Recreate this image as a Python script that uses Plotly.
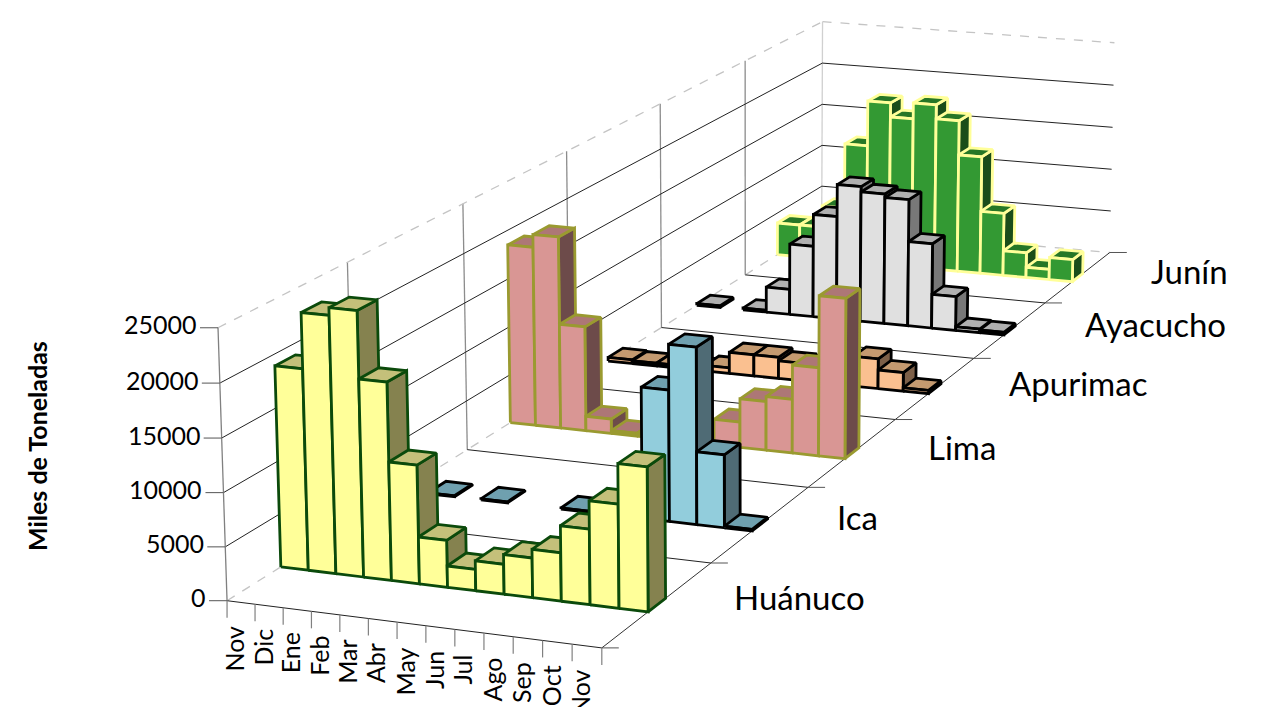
import numpy as np
import plotly.graph_objects as go

months = ["Nov","Dic","Ene","Feb","Mar","Abr","May","Jun","Jul","Ago","Sep","Oct","Nov"]
series_names = ["Huánuco","Ica","Lima","Apurimac","Ayacucho","Junín"]
huanuco  = [18900,24100,24800,18500,11100,4400,2000,2800,3700,4500,7000,9600,13300]
ica      = [0,100,0,100,0,0,100,0,0,12800,17200,7100,150]
lima     = [18500,19800,10800,1500,300,300,300,300,2600,5000,5500,9000,16300]
apurimac = [400,300,300,300,600,2300,2300,1900,1500,2500,3200,2000,350]
ayacucho = [200,0,200,2850,8000,11600,15200,14600,14200,9500,3800,400,300]
junin    = [3800,3800,6300,13900,19150,17500,19350,17700,13700,7300,2900,1200,2600]
z_ticks  = [0,5000,10000,15000,20000,25000]

rows = [huanuco, ica, lima, apurimac, ayacucho, junin]
# front, top, side, edge
styles = [
    ("#FFFF99","#C4C07A","#85824F","#0B4A0B"),
    ("#92CDDC","#6FA0AF","#4F6B75","#000000"),
    ("#D99694","#AD7776","#6D4B4A","#9A9A30"),
    ("#FAC090","#C49A70","#7D6048","#000000"),
    ("#E0E0E0","#B0B0B0","#787878","#000000"),
    ("#339933","#267726","#1A4D1A","#FFFF99"),
]
BAR_Y0, BAR_Y1 = 0.41, 0.57
ZMAX = 25000.0
series_label_pos = [(732,597),(835,517),(926,447),(1007,383),(1083,324),(1149,271)]

# view of the 3-D box: box corner -> place on the page
view_pts = [
    ((0,0,0),(227,601)),((13,0,0),(603,648)),((0,6,0),(822,227)),((13,6,0),(1110,252)),
    ((0,0,25000),(218,327)),((0,6,25000),(822,22)),((13,6,25000),(1115,43)),
    ((0,2,0),(467,450)),((0,4,0),(662,327)),((13,2,0),(807,488)),((13,4,0),(973,358)),
]
def solve_view(pts):
    A=[]
    for (x,y,z),(u,v) in pts:
        X=[x/13,y/6,z/ZMAX,1]
        u/=1000; v/=1000
        A.append(X+[0,0,0,0]+[-u*c for c in X])
        A.append([0,0,0,0]+X+[-v*c for c in X])
    return np.linalg.svd(np.array(A,float))[2][-1].reshape(3,4)
P = solve_view(view_pts)
def proj(x,y,z):
    r = P @ np.array([x/13,y/6,z/ZMAX,1.0])
    return r[0]/r[2]*1000, r[1]/r[2]*1000

fig = go.Figure()
def line(points, color, width, dash="solid"):
    xs=[];ys=[]
    for seg in points:
        for p in seg:
            xs.append(p[0]);ys.append(p[1])
        xs.append(None);ys.append(None)
    fig.add_trace(go.Scatter(x=xs,y=ys,mode="lines",line=dict(color=color,width=width,dash=dash),
                             hoverinfo="skip",showlegend=False))

NX=len(months); NY=len(series_names)
# walls
line([[proj(0,y,0),proj(0,y,ZMAX)] for y in range(1,NY)],"#8C8C8C",1.3)
line([[proj(0,NY,0),proj(0,NY,ZMAX)]],"#D0D0D0",1.3)
line([[proj(0,0,z),proj(0,NY,z)] for z in z_ticks[1:-1]],"#222222",1)
line([[proj(0,NY,z),proj(NX,NY,z)] for z in z_ticks[1:-1]],"#222222",1)
line([[proj(0,0,ZMAX),proj(0,NY,ZMAX)],[proj(0,NY,ZMAX),proj(NX,NY,ZMAX)],
      [proj(0,0,0),proj(0,NY,0)],[proj(0,NY,0),proj(NX,NY,0)]],"#C4C4C4",1.3,"dash")
# floor
line([[proj(0,y,0),proj(NX,y,0)] for y in range(0,NY)],"#222222",1)
line([[proj(NX,0,0),proj(NX,NY,0)]],"#333333",1)
def offs(p,dx=0,dy=0): return (p[0]+dx,p[1]+dy)
line([[proj(NX,y,0),offs(proj(NX,y,0),17)] for y in range(0,NY+1)],"#555555",1)
# z axis and ticks
line([[proj(0,0,0),proj(0,0,ZMAX)]],"#808080",1.3)
line([[proj(0,0,z),offs(proj(0,0,z),-18)] for z in z_ticks],"#555555",1)
line([[proj(x,0,0),offs(proj(x,0,0),0,17)] for x in range(0,NX+1)],"#808080",1.2)

def face(pts,fill,edge,w,name,val):
    xs=[p[0] for p in pts]+[pts[0][0]]
    ys=[p[1] for p in pts]+[pts[0][1]]
    fig.add_trace(go.Scatter(x=xs,y=ys,mode="lines",fill="toself",fillcolor=fill,
        line=dict(color=edge,width=w),showlegend=False,name=name,
        hovertemplate=f"{name}: {val}<extra></extra>"))

for j in range(NY-1,-1,-1):
    f,t,s,e = styles[j]
    y0=j+BAR_Y0; y1=j+BAR_Y1
    for i,v in enumerate(rows[j]):
        if v<=0: continue
        lab=f"{series_names[j]} {months[i]}"
        face([proj(i+1,y0,0),proj(i+1,y1,0),proj(i+1,y1,v),proj(i+1,y0,v)],s,e,2.8,lab,v)
        face([proj(i,y0,v),proj(i+1,y0,v),proj(i+1,y1,v),proj(i,y1,v)],t,e,2.8,lab,v)
        face([proj(i,y0,0),proj(i+1,y0,0),proj(i+1,y0,v),proj(i,y0,v)],f,e,2.8,lab,v)

ann=[]
FONT="Lato"
for z in z_ticks:
    p=proj(0,0,z)
    ann.append(dict(x=p[0]-19,y=p[1]-3.5,text=str(z),xanchor="right",yanchor="middle",showarrow=False,
                    font=dict(family=FONT,size=25,color="#000000")))
for i,m in enumerate(months):
    p=proj(i+0.5,0,0)
    ann.append(dict(x=p[0]-7,y=p[1]+21,text=m,textangle=-90,xanchor="center",yanchor="top",showarrow=False,
                    font=dict(family=FONT,size=25,color="#000000")))
for n,(lx,ly) in zip(series_names,series_label_pos):
    ann.append(dict(x=lx,y=ly,text=n,xanchor="left",yanchor="middle",showarrow=False,
                    font=dict(family=FONT,size=33,color="#000000")))
ann.append(dict(x=37,y=446,text="<b>Miles de Toneladas</b>",textangle=-90,xanchor="center",yanchor="middle",
                showarrow=False,font=dict(family=FONT,size=25,color="#000000")))

fig.update_layout(width=1263,height=707,margin=dict(l=0,r=0,t=0,b=0),paper_bgcolor="white",plot_bgcolor="white",
    xaxis=dict(range=[0,1263],visible=False,fixedrange=True),
    yaxis=dict(range=[707,0],visible=False,fixedrange=True),
    annotations=ann,showlegend=False)
fig.write_html("out.html",config={"displayModeBar":False},
               post_script="document.body.style.margin='0';document.body.style.overflow='hidden';")
